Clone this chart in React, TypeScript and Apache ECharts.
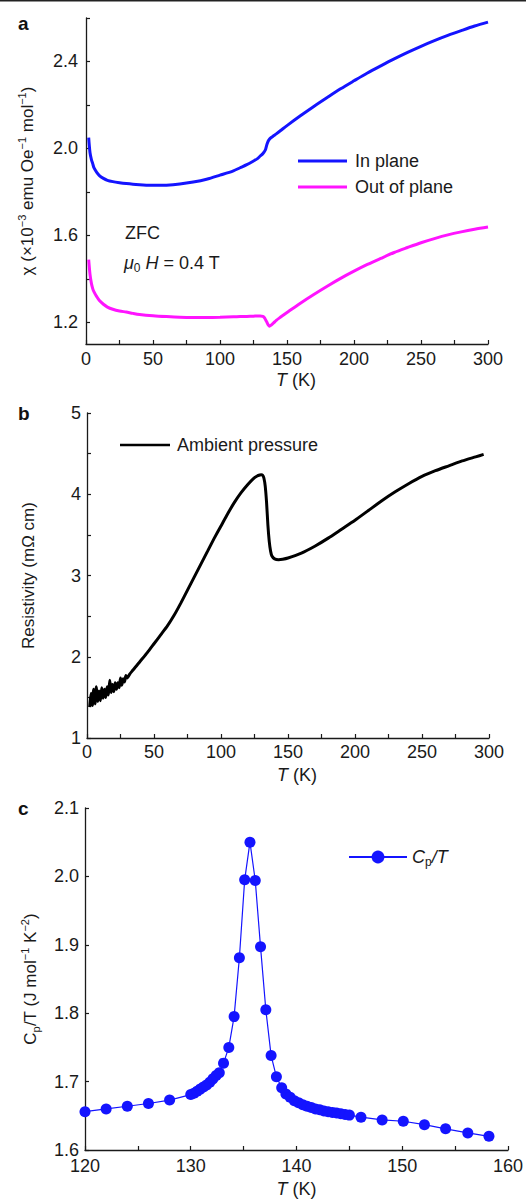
import React, { useEffect, useRef } from "react";
import * as echarts from "echarts";

// Panel a: magnetic susceptibility
const T_A = [2, 3, 4, 5, 6, 8, 10, 13, 16, 20, 25, 30, 35, 40, 50, 60, 70, 80, 90, 100, 110, 115, 120, 125, 128, 130, 132, 133, 134, 135, 136, 137, 138, 140, 142, 145, 150, 160, 170, 180, 190, 200, 210, 220, 230, 240, 250, 260, 270, 280, 290, 300];
const CHI_IN = [2.05, 1.98, 1.95, 1.93, 1.91, 1.89, 1.875, 1.862, 1.853, 1.847, 1.842, 1.838, 1.835, 1.833, 1.83, 1.831, 1.836, 1.845, 1.858, 1.877, 1.897, 1.911, 1.925, 1.942, 1.953, 1.965, 1.976, 1.984, 1.995, 2.018, 2.034, 2.043, 2.049, 2.058, 2.067, 2.081, 2.105, 2.15, 2.193, 2.234, 2.274, 2.311, 2.347, 2.38, 2.412, 2.442, 2.47, 2.496, 2.52, 2.542, 2.563, 2.581];
const CHI_OUT = [1.488, 1.42, 1.38, 1.355, 1.34, 1.318, 1.3, 1.283, 1.27, 1.26, 1.252, 1.247, 1.241, 1.236, 1.23, 1.226, 1.223, 1.222, 1.222, 1.223, 1.225, 1.226, 1.227, 1.228, 1.229, 1.229, 1.227, 1.222, 1.212, 1.2, 1.188, 1.182, 1.186, 1.197, 1.209, 1.223, 1.245, 1.288, 1.328, 1.366, 1.402, 1.435, 1.466, 1.494, 1.521, 1.544, 1.566, 1.585, 1.602, 1.616, 1.628, 1.638];

// Panel b: resistivity
const T_B = [2, 3, 4, 5, 6, 7, 8, 9, 10, 11, 12, 13, 14, 15, 16, 17, 18, 19, 20, 21, 22, 23, 24, 25, 26, 27, 28, 29, 30, 32, 34, 36, 38, 40, 45, 50, 55, 60, 65, 70, 75, 80, 85, 90, 95, 100, 105, 110, 115, 120, 124, 127, 129, 130, 131, 132, 133, 134, 135, 136, 137, 138, 140, 143, 146, 150, 160, 170, 180, 190, 200, 210, 220, 230, 240, 250, 260, 270, 280, 290, 296];
const RHO = [1.38, 1.55, 1.4, 1.6, 1.42, 1.63, 1.45, 1.58, 1.46, 1.62, 1.49, 1.6, 1.5, 1.63, 1.53, 1.71, 1.56, 1.66, 1.57, 1.68, 1.6, 1.68, 1.62, 1.74, 1.65, 1.73, 1.69, 1.77, 1.74, 1.79, 1.83, 1.87, 1.91, 1.95, 2.05, 2.16, 2.27, 2.38, 2.51, 2.66, 2.82, 2.98, 3.14, 3.3, 3.46, 3.61, 3.76, 3.9, 4.02, 4.12, 4.19, 4.225, 4.237, 4.24, 4.235, 4.2, 4.1, 3.9, 3.62, 3.42, 3.3, 3.24, 3.205, 3.195, 3.2, 3.215, 3.275, 3.36, 3.46, 3.57, 3.68, 3.8, 3.92, 4.03, 4.13, 4.22, 4.29, 4.35, 4.41, 4.46, 4.49];

// Panel c: specific heat
const T_C = [120, 122, 124, 126, 128, 130, 130.3, 130.6, 130.9, 131.2, 131.5, 131.8, 132.1, 132.4, 132.7, 133.1, 133.6, 134.1, 134.6, 135.1, 135.6, 136.1, 136.6, 137.1, 137.6, 138.1, 138.6, 139.0, 139.4, 139.8, 140.2, 140.6, 141.0, 141.4, 141.8, 142.2, 142.6, 143.0, 143.4, 143.8, 144.2, 144.6, 145.0, 146.1, 148.1, 150.1, 152.1, 154.1, 156.2, 158.2];
const CP_T = [1.656, 1.66, 1.664, 1.668, 1.673, 1.681, 1.683, 1.686, 1.689, 1.692, 1.695, 1.699, 1.704, 1.709, 1.713, 1.727, 1.75, 1.795, 1.881, 1.995, 2.05, 1.994, 1.897, 1.805, 1.738, 1.707, 1.691, 1.682, 1.677, 1.672, 1.669, 1.666, 1.664, 1.662, 1.66, 1.659, 1.657, 1.656, 1.655, 1.654, 1.653, 1.652, 1.651, 1.648, 1.644, 1.642, 1.637, 1.631, 1.625, 1.62];

const A_Y_TICKS = [1.2, 1.4, 1.6, 1.8, 2.0, 2.2, 2.4, 2.6];
const A_Y_LABELS = [1.2, 1.6, 2.0, 2.4];

const FONT = "'Liberation Sans', Arial, Helvetica, sans-serif";
const TXT = "#1a1a1a";
const AX = "#1a1a1a";
const BLUE = "#1414ff";
const MAGENTA = "#ff14ff";

const zip = (a: number[], b: number[]) => a.map((v, i) => [v, b[i]]);

const axisCommon = {
  axisLine: { onZero: false, lineStyle: { color: AX, width: 1.3 } },
  axisTick: { inside: true, length: 4, lineStyle: { color: AX, width: 1.2 } },
  splitLine: { show: false },
};

const tickLabel = { color: TXT, fontSize: 18, fontFamily: FONT };

const xName = (gap: number, pad: number) => ({
  name: "{i|T} (K)",
  nameLocation: "middle" as const,
  nameGap: gap,
  nameTextStyle: {
    color: TXT,
    fontSize: 18,
    fontFamily: FONT,
    padding: [0, 0, 0, pad],
    rich: {
      i: { fontStyle: "italic", fontSize: 18, fontFamily: FONT, color: TXT },
    },
  },
});

const supRich = {
  n: { fontSize: 17, fontFamily: FONT, color: TXT, lineHeight: 22 },
  s: { fontSize: 11, fontFamily: FONT, color: TXT, lineHeight: 12, verticalAlign: "top" },
  b: { fontSize: 11, fontFamily: FONT, color: TXT, lineHeight: 12, verticalAlign: "bottom" },
};

export default function App() {
  const ref = useRef<HTMLDivElement>(null);
  useEffect(() => {
    if (!ref.current) return;
    const chart = echarts.init(ref.current, undefined, { renderer: "svg" });
    const option: any = {
      animation: false,
      backgroundColor: "#ffffff",
      textStyle: { fontFamily: FONT },
      grid: [
        { left: 86, top: 18, width: 402, height: 326 },
        { left: 87, top: 413, width: 402, height: 325 },
        { left: 85, top: 808, width: 424, height: 342 },
      ],
      xAxis: [
        {
          gridIndex: 0, type: "value", min: 0, max: 300, interval: 25,
          ...axisCommon,
          axisLabel: { ...tickLabel, margin: 6, interval: 0, formatter: (v: number) => (v % 50 === 0 ? String(v) : "") },
          ...xName(27, 18),
        },
        {
          gridIndex: 1, type: "value", min: 0, max: 300, interval: 25,
          ...axisCommon,
          axisLabel: { ...tickLabel, margin: 5, interval: 0, formatter: (v: number) => (v % 50 === 0 ? String(v) : "") },
          ...xName(28, 18),
        },
        {
          gridIndex: 2, type: "value", min: 120, max: 160, interval: 5,
          ...axisCommon,
          axisLabel: { ...tickLabel, margin: 7, interval: 0, formatter: (v: number) => (v % 10 === 0 ? String(v) : "") },
          ...xName(30, 0),
        },
      ],
      yAxis: [
        {
          gridIndex: 0, type: "value", min: 1.1, max: 2.6,
          axisLine: { show: true, onZero: false, lineStyle: { color: AX, width: 1.3 } },
          axisTick: { show: true, inside: true, length: 4, customValues: A_Y_TICKS, lineStyle: { color: AX, width: 1.2 } },
          splitLine: { show: false },
          axisLabel: { ...tickLabel, margin: 8, customValues: A_Y_LABELS, formatter: (v: number) => v.toFixed(1) },
          name: "{n|χ (×10}{s|−3}{n| emu Oe}{s|−1}{n| mol}{s|−1}{n|)}",
          nameLocation: "middle",
          nameRotate: 90,
          nameGap: 48,
          nameTextStyle: { color: TXT, fontSize: 17, fontFamily: FONT, rich: supRich },
        },
        {
          gridIndex: 1, type: "value", min: 1, max: 5, interval: 0.5,
          ...axisCommon,
          axisLabel: { ...tickLabel, margin: 6, formatter: (v: number) => (Math.abs(v - Math.round(v)) < 1e-6 ? String(Math.round(v)) : "") },
          name: "Resistivity (mΩ cm)",
          nameLocation: "middle",
          nameRotate: 90,
          nameGap: 50,
          nameTextStyle: { color: TXT, fontSize: 17, fontFamily: FONT },
        },
        {
          gridIndex: 2, type: "value", min: 1.6, max: 2.1, interval: 0.1,
          ...axisCommon,
          axisLabel: { ...tickLabel, margin: 6, formatter: (v: number) => v.toFixed(1) },
          name: "{n|C}{b|p}{n|/T (J mol}{s|−1}{n| K}{s|−2}{n|)}",
          nameLocation: "middle",
          nameRotate: 90,
          nameGap: 44,
          nameTextStyle: { color: TXT, fontSize: 17, fontFamily: FONT, rich: supRich },
        },
      ],
      legend: [
        {
          data: ["In plane", "Out of plane"],
          orient: "vertical",
          icon: "rect",
          left: 293, top: 147,
          itemWidth: 49, itemHeight: 3, itemGap: 8,
          textStyle: { color: TXT, fontSize: 18, fontFamily: FONT, padding: [0, 0, 0, 3] },
        },
        {
          data: ["Ambient pressure"],
          icon: "rect",
          left: 115, top: 431,
          itemWidth: 50, itemHeight: 2.5,
          textStyle: { color: TXT, fontSize: 18, fontFamily: FONT, padding: [0, 0, 0, 2] },
        },
        {
          data: ["Cp/T"],
          left: 343, top: 843,
          itemWidth: 58, itemHeight: 16,
          formatter: () => "{i|C}{b|p}{i|/T}",
          textStyle: {
            color: TXT, fontSize: 18, fontFamily: FONT,
            rich: {
              i: { fontStyle: "italic", fontSize: 18, fontFamily: FONT, color: TXT, lineHeight: 22 },
              b: { fontSize: 12, fontFamily: FONT, color: TXT, lineHeight: 12, verticalAlign: "bottom" },
            },
          },
        },
      ],
      series: [
        {
          name: "In plane", type: "line", xAxisIndex: 0, yAxisIndex: 0,
          data: zip(T_A, CHI_IN), symbol: "none", smooth: 0.3,
          lineStyle: { color: BLUE, width: 3 }, itemStyle: { color: BLUE },
        },
        {
          name: "Out of plane", type: "line", xAxisIndex: 0, yAxisIndex: 0,
          data: zip(T_A, CHI_OUT), symbol: "none", smooth: 0.3,
          lineStyle: { color: MAGENTA, width: 3 }, itemStyle: { color: MAGENTA },
        },
        {
          name: "Ambient pressure", type: "line", xAxisIndex: 1, yAxisIndex: 1,
          data: zip(T_B, RHO), symbol: "none", smooth: 0.2,
          lineStyle: { color: "#000000", width: 3 }, itemStyle: { color: "#000000" },
        },
        {
          name: "Cp/T", type: "line", xAxisIndex: 2, yAxisIndex: 2,
          data: zip(T_C, CP_T), symbol: "circle", symbolSize: 11, showSymbol: true,
          lineStyle: { color: BLUE, width: 1.2 }, itemStyle: { color: BLUE },
        },
      ],
      graphic: [
        { type: "rect", shape: { x: 0, y: 0, width: 526, height: 1.5 }, style: { fill: "#222" } },
        { type: "text", x: 18, y: 14, style: { text: "a", fontSize: 19, fontWeight: "bold", fontFamily: FONT, fill: "#111" } },
        { type: "text", x: 18, y: 404, style: { text: "b", fontSize: 19, fontWeight: "bold", fontFamily: FONT, fill: "#111" } },
        { type: "text", x: 18, y: 799, style: { text: "c", fontSize: 19, fontWeight: "bold", fontFamily: FONT, fill: "#111" } },
        { type: "text", x: 125, y: 224, style: { text: "ZFC", fontSize: 18, fontFamily: FONT, fill: TXT } },
        {
          type: "text", x: 124, y: 252,
          style: {
            text: "{i|μ}{b|0}{n| }{i|H}{n| = 0.4 T}",
            fontSize: 18, fontFamily: FONT, fill: TXT,
            rich: {
              i: { fontStyle: "italic", fontSize: 18, fontFamily: FONT, fill: TXT, lineHeight: 22 },
              n: { fontSize: 18, fontFamily: FONT, fill: TXT, lineHeight: 22 },
              b: { fontSize: 12, fontFamily: FONT, fill: TXT, lineHeight: 12, verticalAlign: "bottom" },
            },
          },
        },
      ],
    };
    chart.setOption(option);
    return () => chart.dispose();
  }, []);
  return (
    <div
      ref={ref}
      style={{ position: "absolute", left: 0, top: 0, width: 526, height: 1201, background: "#fff" }}
    />
  );
}
